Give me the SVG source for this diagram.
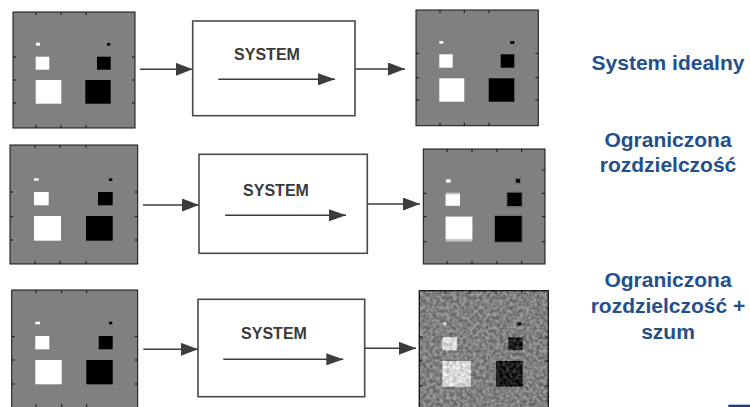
<svg xmlns="http://www.w3.org/2000/svg" width="750" height="407" viewBox="0 0 750 407">
<style>
.bg{fill:#808080;stroke:#111;stroke-width:1}
.tick{stroke:#111;stroke-width:1}
.w{fill:#fff}
.k{fill:#000}
.box{fill:#fff;stroke:#4a4a4a;stroke-width:1.6}
.sys{font-family:"Liberation Sans",Arial,sans-serif;font-weight:bold;font-size:16px;fill:#3a3a3a;text-anchor:middle}
.lbl{font-family:"Liberation Sans",Arial,sans-serif;font-weight:bold;font-size:21px;fill:#23508c;text-anchor:middle}
.conn{stroke:#3c3c3c;stroke-width:1.6;fill:none}
</style>
<defs>
<marker id="ah" markerUnits="userSpaceOnUse" markerWidth="17" markerHeight="13" refX="17" refY="6.5" orient="auto">
<path d="M0,0 L17,6.5 L0,13 z" fill="#3c3c3c"/>
</marker>
<marker id="ahs" markerUnits="userSpaceOnUse" markerWidth="17" markerHeight="12" refX="17" refY="6" orient="auto">
<path d="M0,0 L17,6 L0,12 z" fill="#3c3c3c"/>
</marker>
<filter id="blur" x="-20%" y="-20%" width="140%" height="140%">
<feGaussianBlur stdDeviation="0.6"/>
</filter>
<filter id="noise" x="0" y="0" width="100%" height="100%" color-interpolation-filters="sRGB">
<feTurbulence type="fractalNoise" baseFrequency="0.3" numOctaves="2" seed="7"/>
<feColorMatrix type="matrix" values="2.4 0 0 0 -0.7  2.4 0 0 0 -0.7  2.4 0 0 0 -0.7  0 0 0 0 0.22"/>
</filter>
</defs>

<!-- Row 1 -->
<g id="input1">
<rect class="bg" x="13" y="12" width="122" height="116"/>
<path class="tick" d="M36,12v3M61,12v3M86,12v3M36,128v-3M61,128v-3M86,128v-3M13,57h3M13,80h3M13,103h3M135,57h-3M135,80h-3M135,103h-3"/>
<rect class="w" x="36" y="42.7" width="4" height="3"/>
<rect class="w" x="35.7" y="56.7" width="13.6" height="13"/>
<rect class="w" x="35.7" y="80" width="25.6" height="23.7"/>
<rect class="k" x="107" y="43" width="3.3" height="2.7"/>
<rect class="k" x="97" y="56.7" width="13.7" height="13"/>
<rect class="k" x="85.3" y="80" width="25.4" height="23.7"/>
</g>
<g id="system1">
<rect class="box" x="192.7" y="21" width="162.3" height="94.7"/>
<text class="sys" x="267" y="60">SYSTEM</text>
<line class="conn" x1="218.3" y1="79.3" x2="335" y2="79.3" marker-end="url(#ahs)"/>
</g>
<g id="output1">
<rect class="bg" x="416" y="10" width="122.3" height="115.7"/>
<path class="tick" d="M440,10v3M464.3,10v3M489,10v3M440,125.7v-3M464.3,125.7v-3M489,125.7v-3M416,53.3h3M416,77.7h3M416,100h3M538.3,53.3h-3M538.3,77.7h-3M538.3,100h-3"/>
<rect class="w" x="439.3" y="41" width="4" height="2.7"/>
<rect class="w" x="439.3" y="54.3" width="13.4" height="13.4"/>
<rect class="w" x="439.3" y="78.3" width="25" height="23.4"/>
<rect class="k" x="510.3" y="41" width="4" height="3"/>
<rect class="k" x="500.7" y="54.3" width="13.6" height="13.4"/>
<rect class="k" x="488.7" y="78.3" width="25.6" height="23.4"/>
</g>

<!-- Row 2 -->
<g id="input2">
<rect class="bg" x="10" y="145" width="127.7" height="119"/>
<path class="tick" d="M35,145v3M60,145v3M86,145v3M35,264v-3M60,264v-3M86,264v-3M10,192h3M10,216.7h3M10,240h3M137.7,192h-3M137.7,216.7h-3M137.7,240h-3"/>
<rect class="w" x="34" y="178.3" width="4.7" height="2.4"/>
<rect class="w" x="34" y="192" width="14.7" height="13.3"/>
<rect class="w" x="34" y="216" width="27" height="24.7"/>
<rect class="k" x="109" y="178.3" width="3.3" height="2.7"/>
<rect class="k" x="98" y="192" width="14.7" height="13.3"/>
<rect class="k" x="86" y="216" width="26.7" height="24.7"/>
</g>
<g id="system2">
<rect class="box" x="199" y="154.3" width="168.3" height="99"/>
<text class="sys" x="276" y="195.7">SYSTEM</text>
<line class="conn" x1="225" y1="215.3" x2="346" y2="215.3" marker-end="url(#ahs)"/>
</g>
<g id="output2">
<rect class="bg" x="423.3" y="149" width="121.7" height="115"/>
<path class="tick" d="M447,149v3M472,149v3M497,149v3M521.7,149v3M447,264v-3M472,264v-3M497,264v-3M521.7,264v-3M423.3,193.3h3M423.3,216.7h3M423.3,241.7h3M545,170h-3M545,193.3h-3M545,216.7h-3M545,241.7h-3"/>
<g filter="url(#blur)">
<rect x="506" y="191.5" width="17" height="15.8" fill="#6c6c6c"/>
<rect x="493.7" y="214.7" width="29.3" height="28.3" fill="#6c6c6c"/>
<rect x="514.8" y="177.8" width="6.4" height="6.1" fill="#6c6c6c"/>
<rect x="445.7" y="192.7" width="14.3" height="13" fill="#c8c8c8"/>
<rect x="445.7" y="194.5" width="14.3" height="11.2" fill="#fff"/>
<rect x="445.7" y="216.7" width="26.6" height="25" fill="#c0c0c0"/>
<rect x="445.7" y="216.7" width="26.6" height="22.5" fill="#fff"/>
<rect x="446" y="179.3" width="4.7" height="3.4" fill="#f4f4f4"/>
<rect x="516" y="179" width="4" height="3.7" fill="#000"/>
<rect x="507.3" y="192.7" width="14.4" height="13.3" fill="#000"/>
<rect x="495" y="216" width="26.7" height="25.7" fill="#000"/>
</g>
</g>

<!-- Row 3 -->
<g id="input3">
<rect class="bg" x="11.7" y="290" width="126" height="118"/>
<path class="tick" d="M36,290v3M61.7,290v3M86.7,290v3M36,407v-3M61.7,407v-3M86.7,407v-3M11.7,336.7h3M11.7,360h3M11.7,384h3M137.7,336.7h-3M137.7,360h-3M137.7,384h-3"/>
<rect class="w" x="35.3" y="321.7" width="4.7" height="2.6"/>
<rect class="w" x="35.3" y="336" width="14" height="13.3"/>
<rect class="w" x="35.3" y="360" width="26.4" height="24.3"/>
<rect class="k" x="109" y="321.7" width="3.3" height="2.6"/>
<rect class="k" x="98.7" y="336" width="14" height="13.3"/>
<rect class="k" x="86.3" y="360" width="26.4" height="24.3"/>
</g>
<g id="system3">
<rect class="box" x="198" y="299.3" width="166.7" height="97.4"/>
<text class="sys" x="274" y="339.3">SYSTEM</text>
<line class="conn" x1="223.3" y1="359.3" x2="343.3" y2="359.3" marker-end="url(#ahs)"/>
</g>
<g id="output3">
<rect class="bg" x="419.3" y="290.7" width="129" height="118"/>
<g filter="url(#blur)">
<rect x="443.3" y="322.3" width="3.4" height="3" fill="#f0f0f0"/>
<rect x="442.3" y="337.3" width="15" height="13" fill="#f4f4f4"/>
<rect x="442.3" y="361" width="28.4" height="25.7" fill="#f4f4f4"/>
<rect x="517.3" y="322.3" width="3.7" height="3" fill="#000"/>
<rect x="508.3" y="337.3" width="14.4" height="12.7" fill="#000"/>
<rect x="496" y="361" width="26.7" height="25.7" fill="#000"/>
</g>
<rect x="419.3" y="290.7" width="129" height="118" fill="#fff" filter="url(#noise)"/>
<path class="tick" d="M445,290.7v3M470,290.7v3M496,290.7v3M521.7,290.7v3M419.3,337h3M419.3,361h3M419.3,386h3M548.3,337h-3M548.3,361h-3M548.3,386h-3"/>
<rect x="419.3" y="290.7" width="129" height="118" fill="none" stroke="#111" stroke-width="1"/>
</g>

<!-- Connectors -->
<g id="connectors">
<line class="conn" x1="140" y1="69.3" x2="192.7" y2="69.3" marker-end="url(#ah)"/>
<line class="conn" x1="355" y1="69" x2="405" y2="69" marker-end="url(#ah)"/>
<line class="conn" x1="143" y1="205" x2="199" y2="205" marker-end="url(#ah)"/>
<line class="conn" x1="367.3" y1="204" x2="420" y2="204" marker-end="url(#ah)"/>
<line class="conn" x1="143.3" y1="349.3" x2="198" y2="349.3" marker-end="url(#ah)"/>
<line class="conn" x1="364.7" y1="348.3" x2="416" y2="348.3" marker-end="url(#ah)"/>
</g>

<!-- Labels -->
<g id="labels">
<text class="lbl" x="668" y="69.5">System idealny</text>
<text class="lbl" x="668" y="146.5">Ograniczona</text>
<text class="lbl" x="668" y="171.7">rozdzielczość</text>
<text class="lbl" x="668" y="287">Ograniczona</text>
<text class="lbl" x="668" y="312.8">rozdzielczość +</text>
<text class="lbl" x="668" y="338.5">szum</text>
</g>
<rect x="728.3" y="404.7" width="21.7" height="2.3" fill="#1f3f7a"/>
</svg>
